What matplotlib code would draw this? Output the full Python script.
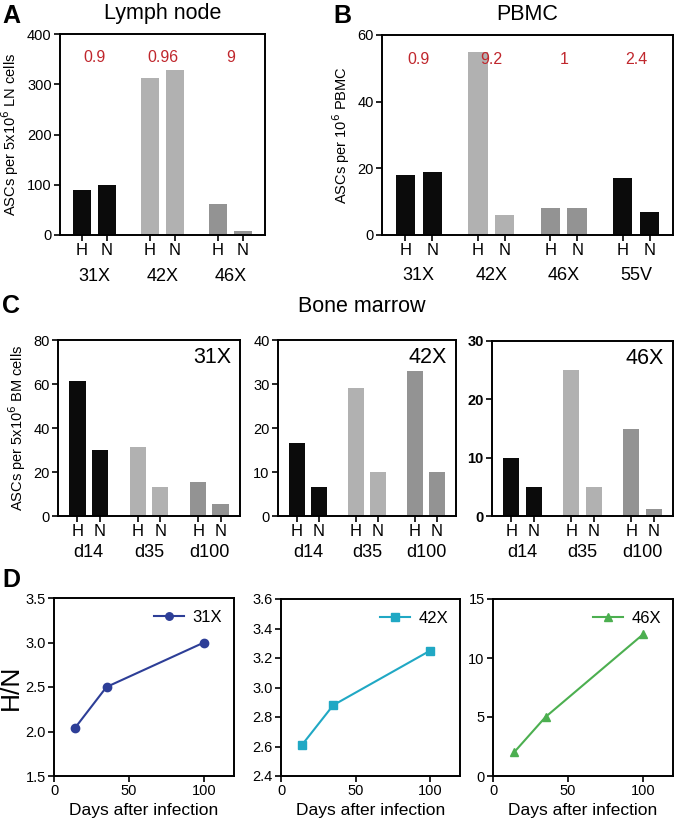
import matplotlib
matplotlib.use("Agg")
import matplotlib.pyplot as plt
from matplotlib.transforms import blended_transform_factory

plt.rcParams['font.family'] = ['Liberation Sans', 'DejaVu Sans']
plt.rcParams['axes.linewidth'] = 1.4
plt.rcParams['xtick.major.width'] = 1.2
plt.rcParams['ytick.major.width'] = 1.2

W, H = 676, 819
fig = plt.figure(figsize=(W / 100, H / 100), dpi=100)

def rect(x0, y0, x1, y1):
    return [x0 / W, 1 - y1 / H, (x1 - x0) / W, (y1 - y0) / H]

BLACK = '#0b0b0b'
LIGHT = '#b1b1b1'
MID = '#939393'
RED = '#c0272d'

# ---------------- data ----------------
ln_groups = ['31X', '42X', '46X']
ln_H = [90, 313, 62]
ln_N = [100, 328, 8]
ln_ratio = ['0.9', '0.96', '9']
ln_colors = [BLACK, LIGHT, MID]

pb_groups = ['31X', '42X', '46X', '55V']
pb_H = [18, 55, 8, 17]
pb_N = [19, 6, 8, 7]
pb_ratio = ['0.9', '9.2', '1', '2.4']
pb_colors = [BLACK, LIGHT, MID, BLACK]

bm_days = ['d14', 'd35', 'd100']
bm_colors = [BLACK, LIGHT, MID]
bm_31X_H = [61.5, 31.5, 15.5]
bm_31X_N = [30, 13, 5.5]
bm_42X_H = [16.5, 29, 33]
bm_42X_N = [6.5, 10, 10]
bm_46X_H = [10, 25, 15]
bm_46X_N = [5, 5, 1.2]

days = [14, 35, 100]
hn_31X = [2.04, 2.5, 3.0]
hn_42X = [2.61, 2.88, 3.25]
hn_46X = [2.0, 5.0, 12.0]


def bar_panel(ax, groups, Hv, Nv, colors, ylim, yticks, gap=2.7, glabel_y=-0.22,
              hn_size=12, g_size=13, bold_ticks=False):
    pos_H, pos_N = [], []
    for i in range(len(groups)):
        pos_H.append(i * gap)
        pos_N.append(i * gap + 1)
    ax.bar(pos_H, Hv, width=0.72, color=colors)
    ax.bar(pos_N, Nv, width=0.72, color=colors)
    ax.set_ylim(*ylim)
    ax.set_yticks(yticks)
    ax.set_xlim(-0.87, pos_N[-1] + 0.87)
    ticks = sorted(pos_H + pos_N)
    ax.set_xticks(ticks)
    ax.set_xticklabels(['H', 'N'] * len(groups), fontsize=hn_size)
    ax.tick_params(axis='x', length=4, pad=2)
    ax.tick_params(axis='y', length=4, labelsize=10.5, pad=2)
    if bold_ticks:
        for t in ax.get_yticklabels():
            t.set_fontweight('bold')
    tr = blended_transform_factory(ax.transData, ax.transAxes)
    for i, g in enumerate(groups):
        ax.text(pos_H[i] + 0.5, glabel_y, g, transform=tr, ha='center',
                va='center', fontsize=g_size)
    return pos_H, pos_N


# ---------------- A ----------------
axA = fig.add_axes(rect(60, 34, 265, 235))
pH, pN = bar_panel(axA, ln_groups, ln_H, ln_N, ln_colors, (0, 400), [0, 100, 200, 300, 400],
                   glabel_y=-0.205)
trA = blended_transform_factory(axA.transData, axA.transAxes)
for i, r in enumerate(ln_ratio):
    axA.text(pH[i] + 0.5, 0.885, r, transform=trA, ha='center', va='center',
             color=RED, fontsize=11.5)
axA.set_ylabel('ASCs per 5x10$^6$ LN cells', fontsize=10.5, labelpad=4)
fig.text(163 / W, 1 - 14 / H, 'Lymph node', fontsize=15.5, ha='center', va='center')
fig.text(2 / W, 1 - 16 / H, 'A', fontsize=18, fontweight='bold', va='center')

# ---------------- B ----------------
axB = fig.add_axes(rect(382, 35, 673, 235))
pH, pN = bar_panel(axB, pb_groups, pb_H, pb_N, pb_colors, (0, 60), [0, 20, 40, 60],
                   glabel_y=-0.205)
trB = blended_transform_factory(axB.transData, axB.transAxes)
for i, r in enumerate(pb_ratio):
    axB.text(pH[i] + 0.5, 0.875, r, transform=trB, ha='center', va='center',
             color=RED, fontsize=11.5)
axB.set_ylabel('ASCs per 10$^6$ PBMC', fontsize=10.5, labelpad=4)
fig.text(527 / W, 1 - 14 / H, 'PBMC', fontsize=15.5, ha='center', va='center')
fig.text(333 / W, 1 - 16 / H, 'B', fontsize=18, fontweight='bold', va='center')

# ---------------- C ----------------
fig.text(362 / W, 1 - 307 / H, 'Bone marrow', fontsize=15.5, ha='center', va='center')
fig.text(2 / W, 1 - 306 / H, 'C', fontsize=18, fontweight='bold', va='center')

c_specs = [
    ((58, 340, 240, 516), bm_31X_H, bm_31X_N, (0, 80), [0, 20, 40, 60, 80], '31X', False),
    ((278, 340, 456, 516), bm_42X_H, bm_42X_N, (0, 40), [0, 10, 20, 30, 40], '42X', False),
    ((492, 341, 673, 516), bm_46X_H, bm_46X_N, (0, 30), [0, 10, 20, 30], '46X', True),
]
for k, (r, Hv, Nv, yl, yt, name, bold) in enumerate(c_specs):
    ax = fig.add_axes(rect(*r))
    bar_panel(ax, bm_days, Hv, Nv, bm_colors, yl, yt, glabel_y=-0.21, bold_ticks=bold)
    ax.text(0.95, 0.90, name, transform=ax.transAxes, ha='right', va='center', fontsize=15.5)
    if k == 0:
        ax.set_ylabel('ASCs per 5x10$^6$ BM cells', fontsize=10.5, labelpad=4)

# ---------------- D ----------------
fig.text(2 / W, 1 - 580 / H, 'D', fontsize=18, fontweight='bold', va='center')
d_specs = [
    ((54, 598, 234, 776), hn_31X, '#2d3e97', 'o', '31X', (1.5, 3.5), [1.5, 2.0, 2.5, 3.0, 3.5], '{:.1f}'),
    ((281, 599, 460, 776), hn_42X, '#20a8c4', 's', '42X', (2.4, 3.6), [2.4, 2.6, 2.8, 3.0, 3.2, 3.4, 3.6], '{:.1f}'),
    ((493, 599, 673, 776), hn_46X, '#4caf50', '^', '46X', (0, 15), [0, 5, 10, 15], '{:.0f}'),
]
for k, (r, vals, col, mk, name, yl, yt, fmt) in enumerate(d_specs):
    ax = fig.add_axes(rect(*r))
    ax.plot(days, vals, color=col, marker=mk, markersize=6, linewidth=1.5, label=name)
    ax.set_xlim(0, 120)
    ax.set_xticks([0, 50, 100])
    ax.set_ylim(*yl)
    ax.set_yticks(yt)
    ax.set_yticklabels([fmt.format(v) for v in yt])
    ax.tick_params(length=4, labelsize=10.5, pad=2)
    ax.set_xlabel('Days after infection', fontsize=12.5, labelpad=3)
    ax.legend(loc='upper right', frameon=False, fontsize=12, handlelength=1.8,
              handletextpad=0.5, borderaxespad=0.3, markerscale=0.9)
    if k == 0:
        ax.set_ylabel('H/N', fontsize=19)
        ax.yaxis.set_label_coords(-31 / 180, 0.5)

fig.savefig('out.png', dpi=100)
